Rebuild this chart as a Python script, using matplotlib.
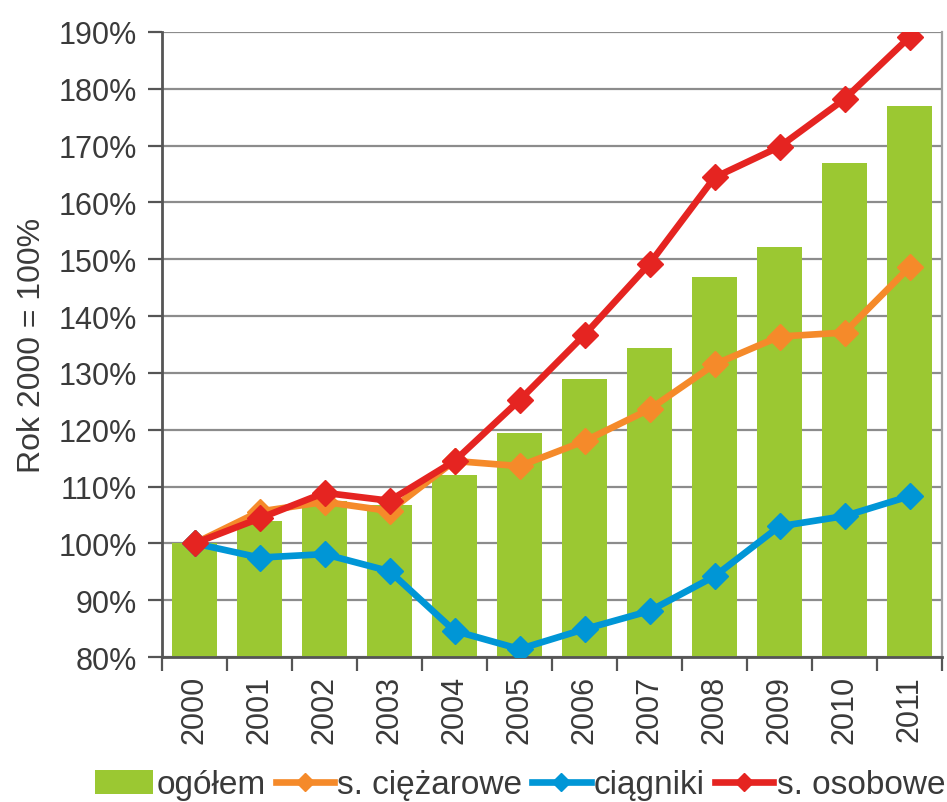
import matplotlib
matplotlib.use("Agg")
import matplotlib.pyplot as plt
import numpy as np

years = ["2000", "2001", "2002", "2003", "2004", "2005", "2006", "2007", "2008", "2009", "2010", "2011"]
ogolem = [100, 103.9, 107.5, 106.8, 112.0, 119.4, 128.9, 134.3, 146.9, 152.1, 166.9, 177.0]
ciezarowe = [100, 105.6, 107.3, 105.7, 114.5, 113.6, 118.0, 123.6, 131.5, 136.4, 137.1, 148.6]
ciagniki = [100, 97.5, 98.1, 95.1, 84.6, 81.4, 84.9, 88.1, 94.2, 103.0, 104.8, 108.3]
osobowe = [100, 104.4, 108.9, 107.5, 114.5, 125.2, 136.7, 149.2, 164.4, 169.8, 178.2, 189.1]
yticks = [80, 90, 100, 110, 120, 130, 140, 150, 160, 170, 180, 190]
labels = ["ogółem", "s. ciężarowe", "ciągniki", "s. osobowe"]
ylabel = "Rok 2000 = 100%"

plt.rcParams["font.family"] = ["Liberation Sans", "DejaVu Sans"]

c_green = "#9BC832"
c_orange = "#F58A2A"
c_blue = "#0096D6"
c_red = "#E52421"
txt = "#3a3a3a"

fig = plt.figure(figsize=(9.47, 8.03), dpi=100)
ax = fig.add_axes([162/947, 1 - 658/803, (942-162)/947, (658-33)/803])

x = np.arange(len(years))
bars = ax.bar(x, [v - 80 for v in ogolem], bottom=80, width=0.68, color=c_green, zorder=2)
kw = dict(lw=4.8, marker="D", markersize=13, zorder=3)
l1, = ax.plot(x, ciezarowe, color=c_orange, **kw)
l2, = ax.plot(x, ciagniki, color=c_blue, **kw)
l3, = ax.plot(x, osobowe, color=c_red, **kw)

ax.set_xlim(-0.5, len(years) - 0.5)
ax.set_ylim(80, 190)
ax.set_yticks(yticks)
ax.set_yticklabels([f"{v}%" for v in yticks], fontsize=22, color=txt)
ax.yaxis.grid(True, color="#8c8c8c", lw=1.6, zorder=0)
ax.set_axisbelow(True)

ax.set_xticks(x)
ax.set_xticklabels(years, rotation=90, fontsize=22, color=txt)
ax.set_xticks(np.arange(-0.5, len(years)), minor=True)
ax.tick_params(axis="x", which="major", length=0, pad=13)
ax.tick_params(axis="x", which="minor", length=10, width=1.6, color="#555555", direction="out")
ax.tick_params(axis="y", length=10, width=1.6, color="#555555", pad=8)

ax.spines["top"].set_visible(False)
ax.spines["right"].set_color("#a0a0a0")
ax.spines["right"].set_linewidth(1.6)
ax.spines["left"].set_color("#555555")
ax.spines["left"].set_linewidth(2)
ax.spines["bottom"].set_color("#555555")
ax.spines["bottom"].set_linewidth(2)

ax.set_ylabel(ylabel, fontsize=23, color=txt, va="center")
ax.yaxis.set_label_coords(-0.167, 0.5)

leg = fig.legend([bars, l1, l2, l3], labels, loc="center", bbox_to_anchor=(0.549, 1 - 786/803), ncol=4,
                 frameon=False, fontsize=24, handlelength=1.75, handletextpad=0.1, columnspacing=0.3,
                 numpoints=1, borderaxespad=0, borderpad=0, labelcolor=txt)
for hl in leg.legend_handles[1:]:
    hl.set_markersize(9)

fig.savefig("out.png", dpi=100, facecolor="white")
